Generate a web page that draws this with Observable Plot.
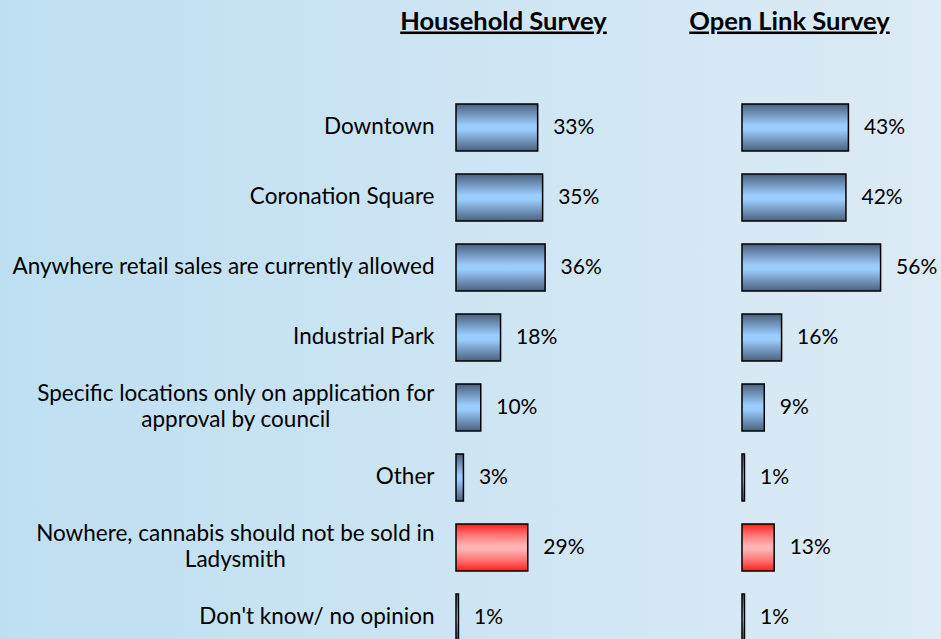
<!DOCTYPE html>
<html>
<head>
<meta charset="utf-8">
<script src="https://cdn.jsdelivr.net/npm/d3@7"></script>
<script src="https://cdn.jsdelivr.net/npm/@observablehq/plot@0.6"></script>
<style>
  html, body { margin: 0; padding: 0; }
  body { width: 941px; height: 639px; overflow: hidden;
    background: linear-gradient(to right, #bedff2, #dcebf5); position: relative; }
  svg.chart { display: block; background: transparent; overflow: visible; }
  g[aria-label="fx-axis tick label"] text { text-decoration: underline; }
</style>
</head>
<body>
<svg width="0" height="0" style="position:absolute">
  <defs>
    <linearGradient id="gBlue" x1="0" y1="0" x2="0" y2="1">
      <stop offset="0" stop-color="#4a627e"/>
      <stop offset="0.2" stop-color="#6f90b6"/>
      <stop offset="0.45" stop-color="#9acdfd"/>
      <stop offset="0.55" stop-color="#9acdfd"/>
      <stop offset="0.8" stop-color="#6f90b6"/>
      <stop offset="1" stop-color="#4a627e"/>
    </linearGradient>
    <linearGradient id="gRed" x1="0" y1="0" x2="0" y2="1">
      <stop offset="0" stop-color="#ff1c1c"/>
      <stop offset="0.2" stop-color="#ff6a6a"/>
      <stop offset="0.45" stop-color="#ffb2b2"/>
      <stop offset="0.55" stop-color="#ffb2b2"/>
      <stop offset="0.8" stop-color="#ff6a6a"/>
      <stop offset="1" stop-color="#ff1c1c"/>
    </linearGradient>
  </defs>
</svg>
<script>
const categories = [
  "Downtown",
  "Coronation Square",
  "Anywhere retail sales are currently allowed",
  "Industrial Park",
  "Specific locations only on application for\napproval by council",
  "Other",
  "Nowhere, cannabis should not be sold in\nLadysmith",
  "Don't know/ no opinion"
];
const surveys = ["Household Survey", "Open Link Survey"];
const household = [33, 35, 36, 18, 10, 3, 29, 1];
const openLink = [43, 42, 56, 16, 9, 1, 13, 1];
const negativeCategory = "Nowhere, cannabis should not be sold in\nLadysmith";

const rows = [];
categories.forEach((c, i) => {
  rows.push({survey: surveys[0], category: c, value: household[i]});
  rows.push({survey: surveys[1], category: c, value: openLink[i]});
});

const FONT = "Lato";
const FS = 22.5;
const chart = Plot.plot({
  width: 941,
  height: 639,
  marginLeft: 455,
  marginRight: 0,
  marginTop: 103,
  marginBottom: 0,
  style: {fontFamily: FONT, fontSize: FS + "px", color: "#000", background: "transparent", overflow: "visible"},
  className: "chart",
  fx: {domain: surveys, paddingInner: 0.3066, paddingOuter: 0, label: null},
  x: {domain: [0, 80], axis: null},
  y: {domain: categories, range: [103.5, 640.4], paddingInner: 0.33, paddingOuter: 0, axis: null},
  marks: [
    Plot.barX(rows, {
      fx: "survey", y: "category", x: "value",
      fill: d => d.category === negativeCategory ? "url(#gRed)" : "url(#gBlue)",
      stroke: "#000", strokeWidth: 1.5
    }),
    Plot.text(rows, {
      fx: "survey", y: "category", x: "value",
      text: d => d.value + "%", textAnchor: "start", dx: 15, dy: -1,
      fontSize: 21, fill: "#000"
    }),
    Plot.axisY({tickSize: 0, tickPadding: 22, fontSize: FS, lineHeight: 1.16, dy: -2, label: null}),
    Plot.axisFx({anchor: "top", tickSize: 0, tickPadding: 74, fontSize: 25.5, fontWeight: "bold", dx: -52, label: null})
  ]
});
document.body.prepend(chart);

chart.querySelectorAll('g[aria-label="y-axis tick label"] text').forEach(t => {
  const spans = t.querySelectorAll("tspan");
  if (spans.length > 1) {
    const W = Math.max(...Array.from(spans, s => s.getComputedTextLength()));
    t.setAttribute("text-anchor", "middle");
    spans.forEach(s => s.setAttribute("x", -W / 2));
  }
});
</script>
</body>
</html>
